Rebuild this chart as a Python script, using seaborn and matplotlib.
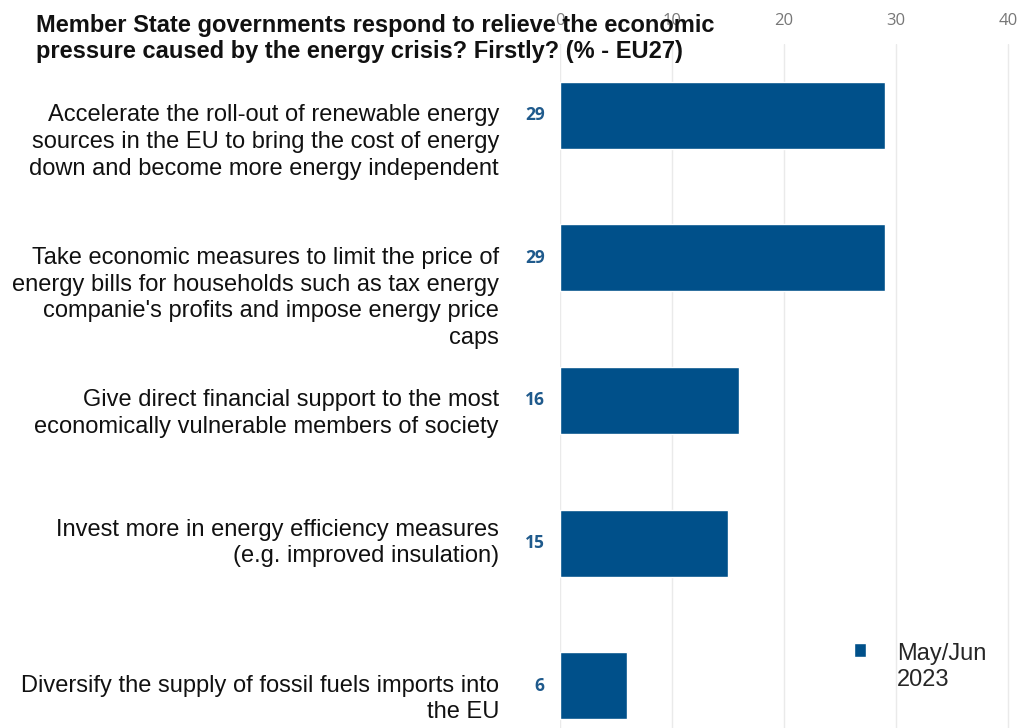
import matplotlib
matplotlib.use('Agg')
import matplotlib.pyplot as plt
import seaborn as sns
import pandas as pd

# Data
categories = [
    'Accelerate the roll-out of renewable energy\nsources in the EU to bring the cost of energy\ndown and become more energy independent',
    "Take economic measures to limit the price of\nenergy bills for households such as tax energy\ncompanie's profits and impose energy price\ncaps",
    'Give direct financial support to the most\neconomically vulnerable members of society',
    'Invest more in energy efficiency measures\n(e.g. improved insulation)',
    'Diversify the supply of fossil fuels imports into\nthe EU',
]
values = [29, 29, 16, 15, 6]
series_name = 'May/Jun 2023'
x_ticks = [0, 10, 20, 30, 40]
title = ('Member State governments respond to relieve the economic\n'
         'pressure caused by the energy crisis? Firstly? (% - EU27)')

bar_color = '#00508A'
label_color = '#1F5A8C'

df = pd.DataFrame({'category': categories, 'value': values, 'wave': series_name})

sns.set_theme(style='white')
plt.rcParams['font.family'] = ['Liberation Sans', 'DejaVu Sans']

fig = plt.figure(figsize=(10.21, 7.28), dpi=100)
# axes spans past the bottom edge: the reference is a cropped screenshot
ax = fig.add_axes([560 / 1021, -29 / 728, 459 / 1021, 713 / 728])

sns.barplot(data=df, x='value', y='category', hue='wave', orient='h',
            palette=[bar_color], width=0.47, saturation=1, ax=ax)

ax.set_xlim(0, 41)
ax.set_ylim(4.5, -0.5)
ax.set_xticks(x_ticks)
ax.xaxis.tick_top()
ax.tick_params(axis='x', length=0, pad=11, labelsize=12, labelcolor='#777777')
for lbl in ax.get_xticklabels():
    lbl.set_family(['Open Sans', 'DejaVu Sans'])
ax.grid(axis='x', color='#EAEAEA', linewidth=1)
ax.set_axisbelow(True)
for s in ax.spines.values():
    s.set_visible(False)
ax.set_xlabel('')
ax.set_ylabel('')
ax.set_yticks(range(len(categories)))
ax.set_yticklabels([])
ax.tick_params(axis='y', length=0)

# category labels and value labels
valign = ['top', 'top', 'top', 'center', 'top']
for i, (cat, v) in enumerate(zip(categories, values)):
    dy = 8 if valign[i] == 'top' else 0
    ax.annotate(cat, xy=(0, i), xycoords='data', xytext=(-44, dy),
                textcoords='offset points', ha='right', va=valign[i],
                fontsize=17, color='#111111', linespacing=1.28)
    ax.annotate(str(v), xy=(0, i), xycoords='data', xytext=(-11, 0),
                textcoords='offset points', ha='right', va='center',
                fontsize=12.5, fontweight='bold', color=label_color,
                family=['Open Sans', 'DejaVu Sans'])

handles, _ = ax.get_legend_handles_labels()
leg = ax.legend(handles[:1], ['May/Jun\n2023'], loc='upper left',
                bbox_to_anchor=(833 / 1021, 1 - 622 / 728),
                bbox_transform=fig.transFigure, frameon=False,
                handlelength=0.5, handleheight=0.5, handletextpad=1.3,
                fontsize=17)
# put the square beside the first line of the label
for col in leg._legend_handle_box.get_children():
    for row in col.get_children():
        row.align = 'top'

fig.text(36 / 1021, 1 - 63 / 728, title, ha='left', va='bottom',
         fontsize=17, fontweight='bold', color='#111111', linespacing=1.15)

fig.savefig('out.png', dpi=100)
